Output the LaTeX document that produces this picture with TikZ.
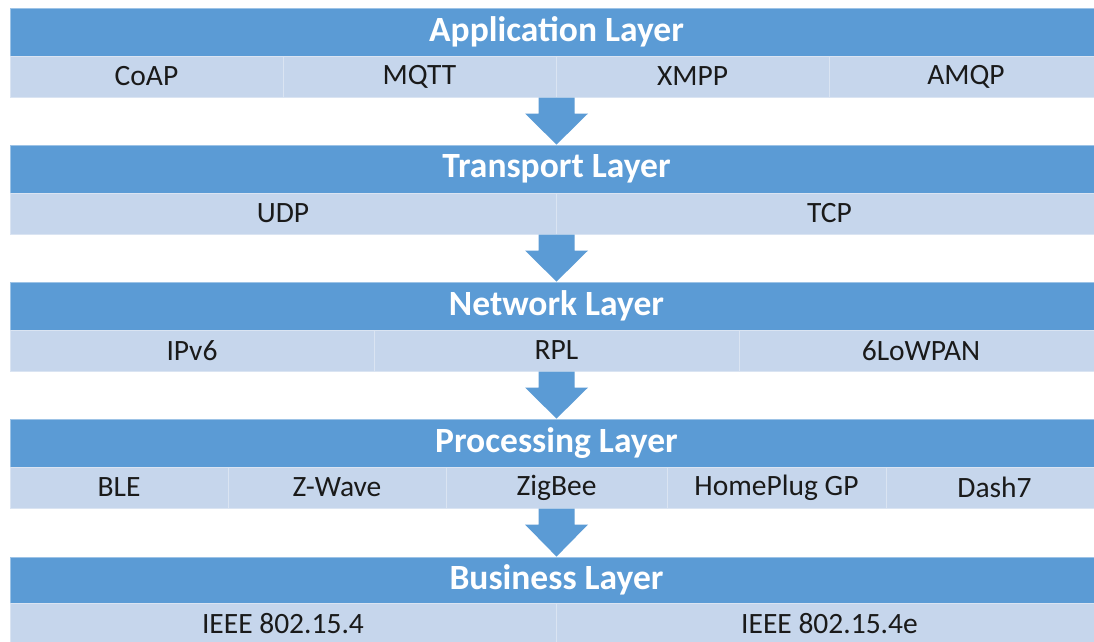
\documentclass[tikz,border=0pt]{standalone}
\usepackage{fontspec}
\setmainfont{Carlito}
\begin{document}
\begin{tikzpicture}[x=1pt,y=-1pt]
\definecolor{hdblue}{HTML}{5B9BD5}
\definecolor{cellblue}{HTML}{C6D6EC}
\definecolor{divline}{HTML}{DAE4F2}
\definecolor{txt}{HTML}{1A1A1A}
\tikzset{
  hdbox/.style={fill=hdblue, draw=hdblue!60!white, line width=0.8pt, inner sep=0pt,
    minimum width=1093pt, minimum height=48pt, text=white, font=\fontsize{35.5}{38}\selectfont\bfseries},
  cellbox/.style={fill=cellblue, draw=divline, line width=1pt, inner sep=0pt,
    minimum height=41pt, text=txt, font=\fontsize{29.5}{33}\selectfont},
  blockarrow/.style={fill=hdblue}
}
\useasboundingbox (0,0) rectangle (1094,641);
\fill[white] (0,0) rectangle (1094,641);

% Application
\node[hdbox] (apph) at (556.5,32) {Application Layer};
\node[cellbox, minimum width=273pt] (coap) at (146.5,76.5) {CoAP};
\node[cellbox, minimum width=273pt] (mqtt) at (419.5,76.5) {MQTT};
\node[cellbox, minimum width=273pt] (xmpp) at (692.5,76.5) {XMPP};
\node[cellbox, minimum width=274pt] (amqp) at (966,76.5) {AMQP};

% Transport
\node[hdbox] (trah) at (556.5,169) {Transport Layer};
\node[cellbox, minimum width=546pt] (udp) at (283,213.5) {UDP};
\node[cellbox, minimum width=547pt] (tcp) at (829.5,213.5) {TCP};

% Network
\node[hdbox] (neth) at (556.5,306) {Network Layer};
\node[cellbox, minimum width=364pt] (ipv6) at (192,350.5) {IPv6};
\node[cellbox, minimum width=365pt] (rpl) at (556.5,350.5) {RPL};
\node[cellbox, minimum width=364pt] (lowpan) at (921,350.5) {6LoWPAN};

% Processing
\node[hdbox] (proh) at (556.5,443) {Processing Layer};
\node[cellbox, minimum width=218pt] (ble) at (119,487.5) {BLE};
\node[cellbox, minimum width=218pt] (zwave) at (337,487.5) {Z-Wave};
\node[cellbox, minimum width=221pt] (zigbee) at (556.5,487.5) {ZigBee};
\node[cellbox, minimum width=219pt] (homeplug) at (776.5,487.5) {HomePlug GP};
\node[cellbox, minimum width=217pt] (dash) at (994.5,487.5) {Dash7};

% Business
\node[hdbox, minimum height=46pt] (bush) at (556.5,580) {Business Layer};
\node[cellbox, minimum width=546pt] (ieeea) at (283,623.5) {IEEE 802.15.4};
\node[cellbox, minimum width=547pt] (ieeeb) at (829.5,623.5) {IEEE 802.15.4e};

% Block arrows between layers
\foreach \a/\b in {mqtt/trah, udp/neth, rpl/proh, zigbee/bush}{
  \fill[blockarrow]
    ([xshift=-18pt]\b.north |- \a.south) -- ([xshift=18pt]\b.north |- \a.south)
    -- ([xshift=18pt,yshift=-16pt]\b.north |- \a.south)
    -- ([xshift=31.5pt,yshift=-16pt]\b.north |- \a.south)
    -- (\b.north)
    -- ([xshift=-31.5pt,yshift=-16pt]\b.north |- \a.south)
    -- ([xshift=-18pt,yshift=-16pt]\b.north |- \a.south) -- cycle;
}
\end{tikzpicture}
\end{document}
